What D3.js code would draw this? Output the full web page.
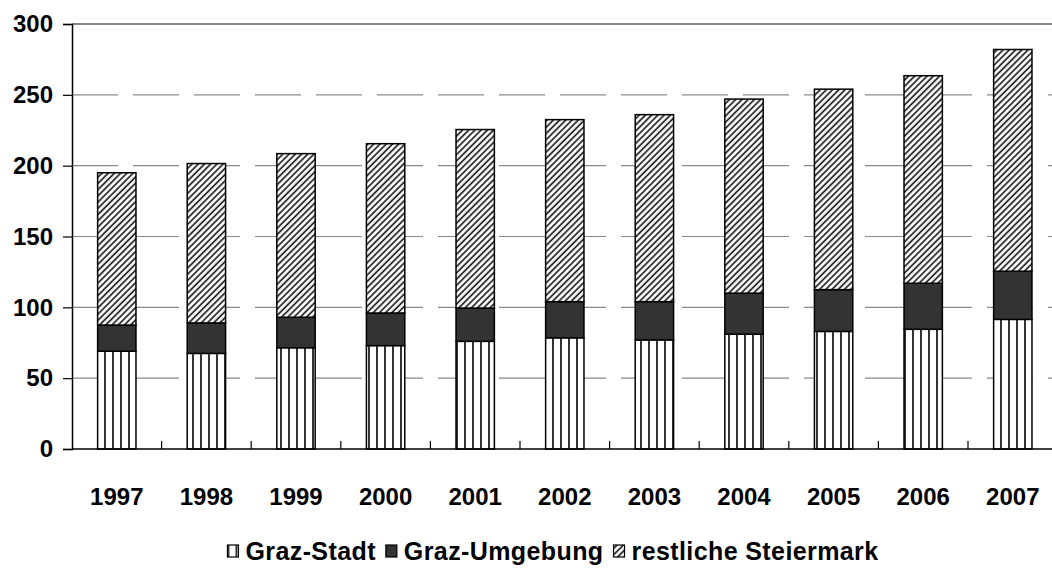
<!DOCTYPE html>
<html><head><meta charset="utf-8">
<script src="https://cdn.jsdelivr.net/npm/d3@7"></script>
<style>
html,body{margin:0;padding:0;background:#fff;}
svg{display:block;font-family:"Liberation Sans",Arial,sans-serif;font-weight:bold;}
</style></head>
<body>
<svg id="chart" width="1052" height="568"></svg>
<script>
const years = ["1997","1998","1999","2000","2001","2002","2003","2004","2005","2006","2007"];
const grazStadt = [69, 67.5, 71.5, 73, 76, 78.5, 77, 81, 83, 84.5, 91.5];
const grazUmgebung = [18.5, 21.5, 21.5, 23, 23.5, 25.5, 27, 29, 29.5, 32.5, 34];
const restSteiermark = [107.5, 112.5, 115.5, 119.5, 126, 128.5, 132, 137, 141.5, 146.5, 156.5];
const seriesNames = ["Graz-Stadt", "Graz-Umgebung", "restliche Steiermark"];
const yTicks = [0, 50, 100, 150, 200, 250, 300];

const svg = d3.select("#chart");
const plotLeft = 72, plotBottom = 449, plotTop = 24, step = 89.6;
const plotRight = plotLeft + step * years.length;

const x = d3.scaleBand().domain(years).range([plotLeft, plotRight]).paddingInner(0.572).paddingOuter(0.286);
const y = d3.scaleLinear().domain([0, 300]).range([plotBottom, plotTop]);

const defs = svg.append("defs");
const pv = defs.append("pattern").attr("id","vert").attr("patternUnits","userSpaceOnUse")
  .attr("width",8).attr("height",8);
pv.append("rect").attr("width",8).attr("height",8).attr("fill","#fff");
pv.append("line").attr("x1",1).attr("x2",1).attr("y1",0).attr("y2",8).attr("stroke","#000").attr("stroke-width",1.6);
const ph = defs.append("pattern").attr("id","hatch").attr("patternUnits","userSpaceOnUse")
  .attr("width",4.4).attr("height",4.4).attr("patternTransform","rotate(45)");
ph.append("rect").attr("width",4.4).attr("height",4.4).attr("fill","#fff");
ph.append("line").attr("x1",1).attr("x2",1).attr("y1",0).attr("y2",4.4).attr("stroke","#222").attr("stroke-width",1.7);
const fills = ["url(#vert)", "#333333", "url(#hatch)"];

// gridlines
svg.append("g").selectAll("line").data(yTicks.filter(d => d > 0 && d < 300)).join("line")
  .attr("x1", plotLeft).attr("x2", plotRight).attr("y1", d => y(d)).attr("y2", d => y(d))
  .attr("stroke", "#8a8a8a").attr("stroke-width", 1.2).attr("stroke-dasharray", "46,15");
svg.append("line").attr("x1", plotLeft).attr("x2", plotRight).attr("y1", y(300)).attr("y2", y(300))
  .attr("stroke", "#888").attr("stroke-width", 2);

// stacked bars
const rows = years.map((yr, i) => ({year: yr, a: grazStadt[i], b: grazUmgebung[i], c: restSteiermark[i]}));
const stack = d3.stack().keys(["a","b","c"])(rows);
stack.forEach((layer, li) => {
  svg.append("g").selectAll("rect").data(layer).join("rect")
    .attr("x", d => x(d.data.year)).attr("width", x.bandwidth())
    .attr("y", d => y(d[1])).attr("height", d => y(d[0]) - y(d[1]))
    .attr("fill", fills[li]).attr("stroke", "#000").attr("stroke-width", 1.5);
});

// axes
const yAxis = svg.append("g").attr("transform", `translate(${plotLeft},0)`)
  .call(d3.axisLeft(y).tickValues(yTicks).tickSize(9).tickPadding(10));
yAxis.select(".domain").attr("stroke", "#000").attr("stroke-width", 1.5);
yAxis.selectAll(".tick line").attr("stroke", "#000").attr("stroke-width", 1.2);
yAxis.selectAll("text").attr("font-size", 24).attr("font-weight", "bold").attr("fill", "#000")
  .attr("font-family", '"Liberation Sans",Arial,sans-serif');

const xg = svg.append("g");
xg.append("line").attr("x1", plotLeft).attr("x2", plotRight).attr("y1", plotBottom).attr("y2", plotBottom)
  .attr("stroke", "#000").attr("stroke-width", 1.5);
xg.selectAll(".tk").data(years.slice(1)).join("line").attr("class","tk")
  .attr("x1", d => x(d) - x.step()*x.paddingOuter()).attr("x2", d => x(d) - x.step()*x.paddingOuter())
  .attr("y1", plotBottom).attr("y2", plotBottom - 8).attr("stroke", "#000").attr("stroke-width", 1.2);
xg.selectAll("text").data(years).join("text")
  .attr("x", d => x(d) + x.bandwidth()/2).attr("y", 505)
  .attr("text-anchor", "middle").attr("font-size", 24).attr("fill", "#000").text(d => d);

// legend
const leg = svg.append("g");
let cx = 0;
seriesNames.forEach((nm, i) => {
  leg.append("rect").attr("x", cx).attr("y", -15).attr("width", 11).attr("height", 12)
    .attr("fill", fills[i]).attr("stroke", "#000").attr("stroke-width", 1.2);
  const t = leg.append("text").attr("x", cx + 18).attr("y", 0).attr("font-size", 25)
    .attr("letter-spacing", 0.4).attr("fill", "#000").text(nm);
  cx += 18 + t.node().getComputedTextLength() + 10;
});
const lw = cx - 10;
leg.attr("transform", `translate(${553 - lw/2},560)`);
</script>
</body></html>
